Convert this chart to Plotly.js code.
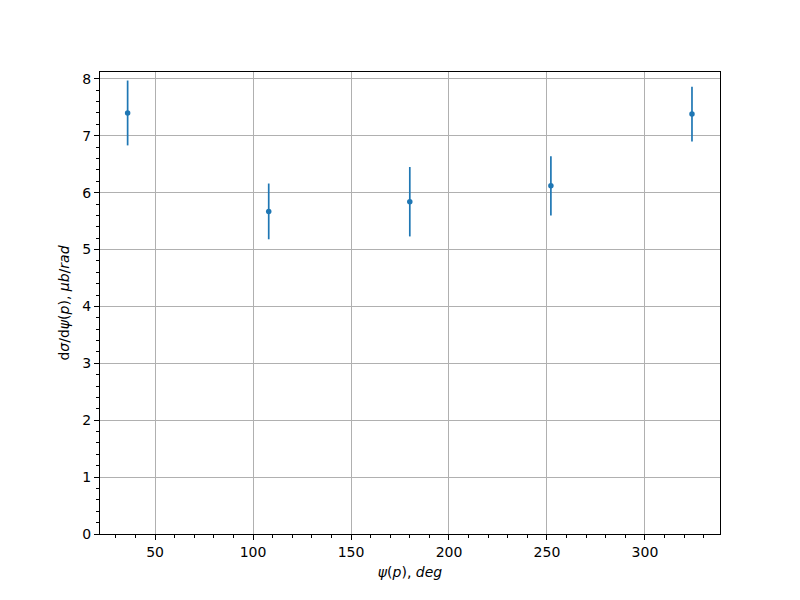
<!DOCTYPE html>
<html>
<head>
<meta charset="utf-8">
<script src="https://cdn.plot.ly/plotly-3.0.1.min.js"></script>
<style>body{margin:0;padding:0;background:#fff}#plot{width:800px;height:600px}</style>
</head>
<body>
<div id="plot"></div>
<script>
const psi = [36, 108, 180, 252, 324];
const xsec = [7.40, 5.67, 5.84, 6.12, 7.38];
const err = [0.57, 0.49, 0.61, 0.52, 0.48];

const font = {family: 'DejaVu Sans', size: 14, color: '#000'};
const trace = {
  x: psi, y: xsec, type: 'scatter', mode: 'markers',
  marker: {color: '#1f77b4', size: 5.5},
  error_y: {type: 'data', array: err, visible: true, color: '#1f77b4', thickness: 1.7, width: 0},
  hoverinfo: 'skip'
};
const layout = {
  width: 800, height: 600,
  margin: {l: 100, r: 80, t: 72, b: 66},
  paper_bgcolor: '#fff', plot_bgcolor: '#fff',
  showlegend: false,
  font: font,
  xaxis: {
    range: [21.9, 338.3], tickvals: [50, 100, 150, 200, 250, 300],
    ticks: 'outside', ticklen: 5, tickwidth: 1, tickcolor: '#000',
    showline: true, linecolor: '#000', linewidth: 1, mirror: true,
    showgrid: true, gridcolor: '#b0b0b0', gridwidth: 1, zeroline: false,
    minor: {dtick: 10, tick0: 0, ticks: 'outside', ticklen: 3, tickcolor: '#000', showgrid: false},
    tickfont: font,
    title: {text: '<i>ψ</i>(<i>p</i>), <i>deg</i>', font: font, standoff: 8}
  },
  yaxis: {
    range: [0, 8.12], tickvals: [0, 1, 2, 3, 4, 5, 6, 7, 8],
    ticks: 'outside', ticklen: 5, tickwidth: 1, tickcolor: '#000',
    showline: true, linecolor: '#000', linewidth: 1, mirror: true,
    showgrid: true, gridcolor: '#b0b0b0', gridwidth: 1, zeroline: false,
    minor: {dtick: 0.2, tick0: 0, ticks: 'outside', ticklen: 3, tickcolor: '#000', showgrid: false},
    tickfont: font,
    title: {text: 'd<i>σ</i>/d<i>ψ</i>(<i>p</i>), <i>μb</i>/<i>rad</i>', font: font, standoff: 9}
  }
};
Plotly.newPlot('plot', [trace], layout, {displayModeBar: false, staticPlot: true});
</script>
</body>
</html>
